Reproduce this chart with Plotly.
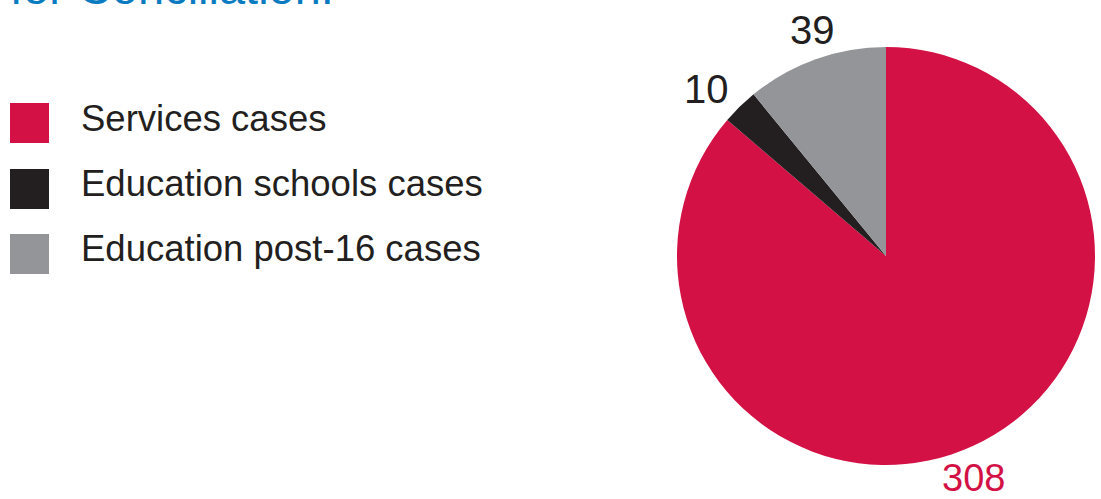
import plotly.graph_objects as go

# Case counts by category (clockwise from 12 o'clock)
categories = ["Services cases", "Education schools cases", "Education post-16 cases"]
values = [308, 10, 39]
colors = ["#D31145", "#231F20", "#939598"]
label_colors = ["#D31145", "#231F20", "#231F20"]

W, H = 1101, 499


def px(x):
    return x / W


def py(y):
    return 1 - y / H


fig = go.Figure()

# Pie: centre (886, 256), radius ~209 px
cx, cy, r = 886, 256, 209
fig.add_trace(go.Pie(
    labels=categories,
    values=values,
    marker=dict(colors=colors, line=dict(width=0)),
    sort=False,
    direction="clockwise",
    rotation=0,
    textinfo="none",
    hoverinfo="label+value",
    showlegend=False,
    domain=dict(x=[px(cx - r), px(cx + r)], y=[py(cy + r), py(cy - r)]),
))

annotations = []
shapes = []

# Value labels around the pie
label_pos = {
    "Education post-16 cases": (812, 30, 40),
    "Education schools cases": (706, 89, 40),
    "Services cases": (973, 478, 38),
}
for cat, val, lc in zip(categories, values, label_colors):
    lx, ly, fs = label_pos[cat]
    annotations.append(dict(
        x=px(lx), y=py(ly), xref="paper", yref="paper",
        text=str(val), showarrow=False, xanchor="center", yanchor="middle",
        font=dict(family="Liberation Sans, Arial, sans-serif", size=fs, color=lc),
    ))

# Hand-built legend with large square swatches
row_y = [123, 189, 254]
for name, col, yc in zip(categories, colors, row_y):
    shapes.append(dict(
        type="rect", xref="paper", yref="paper",
        x0=px(10), x1=px(49), y0=py(yc + 20), y1=py(yc - 20),
        fillcolor=col, line=dict(width=0),
    ))
    annotations.append(dict(
        x=px(79), y=py(yc - 5), xref="paper", yref="paper",
        text=name, showarrow=False, xanchor="left", yanchor="middle",
        font=dict(family="Liberation Sans, Arial, sans-serif", size=36.5, color="#231F20"),
    ))

# Heading, last line only, running off the top edge
annotations.append(dict(
    x=px(8), y=py(16), xref="paper", yref="paper",
    text="for Conciliation.", showarrow=False, xanchor="left", yanchor="bottom",
    font=dict(family="Liberation Sans, Arial, sans-serif", size=47, color="#0B7BC1"),
))

fig.update_layout(
    width=W, height=H,
    margin=dict(l=0, r=0, t=0, b=0),
    paper_bgcolor="white", plot_bgcolor="white",
    annotations=annotations, shapes=shapes,
    showlegend=False,
)

fig.write_html("out.html", config={"displayModeBar": False})
